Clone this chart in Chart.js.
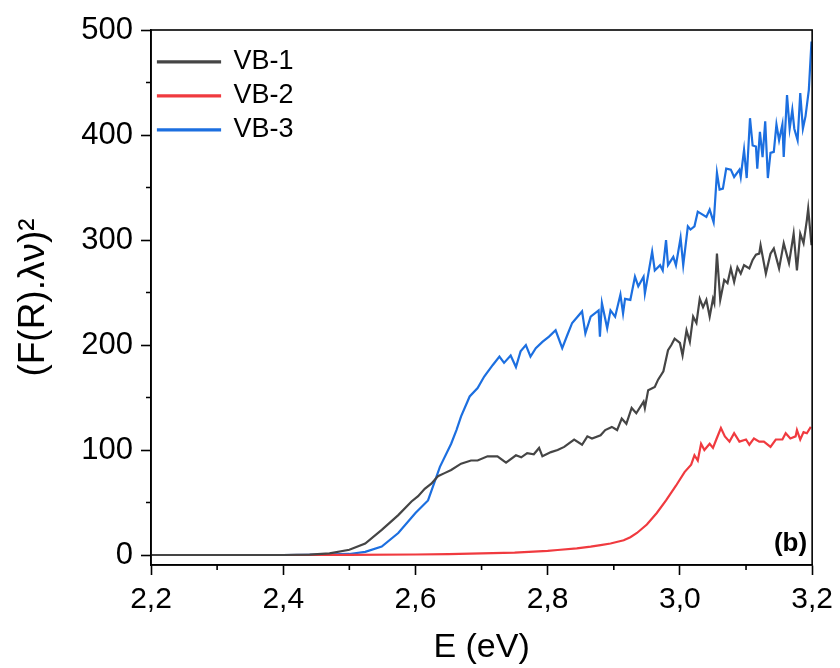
<!DOCTYPE html>
<html>
<head>
<meta charset="utf-8">
<script src="https://cdn.jsdelivr.net/npm/chart.js@4.4.1/dist/chart.umd.min.js"></script>
<style>
  html, body { margin: 0; padding: 0; background: #fff; }
  #chart { display: block; }
</style>
</head>
<body>
<canvas id="chart" width="840" height="668"></canvas>
<script>
const xTicks = [2.2, 2.4, 2.6, 2.8, 3.0, 3.2];
const xMinor = [2.3, 2.5, 2.7, 2.9, 3.1];
const yTicks = [0, 100, 200, 300, 400, 500];
const yMinor = [50, 150, 250, 350, 450];
const seriesNames = ["VB-1", "VB-2", "VB-3"];
const seriesColors = ["#454545", "#f03a3f", "#1c6fe0"];

// VB-1 (black)
const vb1E = [2.20, 2.30, 2.40, 2.44, 2.47, 2.50, 2.524, 2.549, 2.574, 2.594, 2.604, 2.614, 2.624, 2.634, 2.644, 2.654, 2.669, 2.684, 2.694,
  2.709, 2.724, 2.737, 2.752, 2.760, 2.769, 2.779, 2.787, 2.792, 2.805, 2.815, 2.825, 2.840, 2.852, 2.860, 2.867, 2.880, 2.887, 2.897, 2.905,
  2.912, 2.919, 2.927, 2.934, 2.945, 2.947, 2.952, 2.962, 2.967, 2.975, 2.982, 2.987, 2.992, 3.000, 3.004, 3.010, 3.015, 3.020, 3.025, 3.030,
  3.035, 3.040, 3.045, 3.050, 3.052, 3.056, 3.061, 3.067, 3.072, 3.077, 3.082, 3.087, 3.092, 3.097, 3.105, 3.110, 3.115, 3.120, 3.122, 3.130,
  3.137, 3.142, 3.150, 3.157, 3.165, 3.172, 3.177, 3.182, 3.187, 3.192, 3.194, 3.199];
const vb1Y = [0, 0, 0, 0.3, 1.5, 5, 11, 24, 38, 51, 56, 63, 68, 75, 78, 81, 87, 90, 90,
  94, 94, 88, 95, 93, 97, 96, 102, 94, 98, 100, 103, 110, 105, 113, 111, 114, 119, 122, 119,
  130, 125, 140, 135, 146, 140, 157, 160, 167, 175, 195, 200, 206, 202, 190, 214, 203, 227, 221, 244,
  236, 243, 227, 244, 240, 287, 243, 262, 259, 273, 260, 274, 268, 276, 273, 281, 286, 287, 295, 268,
  287, 292, 273, 297, 278, 306, 271, 306, 297, 319, 330, 295];

// VB-2 (red)
const vb2E = [2.20, 2.40, 2.50, 2.60, 2.65, 2.70, 2.75, 2.80, 2.815, 2.844, 2.865, 2.88, 2.895, 2.915, 2.925, 2.935, 2.95, 2.965, 2.979,
  2.994, 3.007, 3.017, 3.022, 3.027, 3.032, 3.037, 3.045, 3.050, 3.055, 3.062, 3.068, 3.075, 3.082, 3.090, 3.100, 3.105, 3.112, 3.120,
  3.127, 3.137, 3.145, 3.155, 3.160, 3.167, 3.175, 3.177, 3.182, 3.187, 3.192, 3.198];
const vb2Y = [0, 0, 0.1, 0.5, 0.8, 1.5, 2.3, 4, 4.8, 6.4, 8, 9.5, 11, 14, 17, 21, 29, 40, 52,
  66, 79, 86, 95, 90, 106, 100, 106, 102, 110, 121, 113, 108, 116, 108, 110, 105, 111, 108,
  108, 103, 110, 110, 116, 111, 113, 119, 110, 117, 116, 122];

// VB-3 (blue)
const vb3E = [2.20, 2.40, 2.46, 2.50, 2.524, 2.549, 2.574, 2.600, 2.619, 2.637, 2.654, 2.662, 2.669, 2.682, 2.694, 2.704, 2.717, 2.727,
  2.734, 2.744, 2.752, 2.759, 2.767, 2.774, 2.782, 2.792, 2.802, 2.812, 2.822, 2.830, 2.837, 2.852, 2.857, 2.865, 2.877, 2.879, 2.882,
  2.890, 2.895, 2.902, 2.910, 2.914, 2.917, 2.925, 2.932, 2.937, 2.945, 2.947, 2.952, 2.958, 2.962, 2.970, 2.974, 2.979, 2.982, 2.990,
  2.994, 3.001, 3.005, 3.012, 3.016, 3.022, 3.027, 3.040, 3.045, 3.051, 3.052, 3.056, 3.060, 3.065, 3.070, 3.077, 3.082, 3.090, 3.092,
  3.097, 3.101, 3.106, 3.110, 3.115, 3.117, 3.121, 3.125, 3.129, 3.133, 3.137, 3.142, 3.146, 3.150, 3.155, 3.157, 3.162, 3.166, 3.170,
  3.173, 3.178, 3.182, 3.186, 3.190, 3.195, 3.199];
const vb3Y = [0, 0, 0.3, 1, 3, 8, 21, 40, 52, 84, 106, 119, 132, 151, 159, 170, 181, 189,
  183, 190, 179, 194, 200, 189, 197, 203, 208, 214, 197, 210, 221, 232, 211, 227, 233, 208, 240,
  216, 233, 227, 248, 230, 244, 243, 265, 256, 265, 249, 267, 289, 271, 276, 271, 300, 276, 284,
  276, 302, 276, 313, 310, 313, 327, 322, 329, 317, 325, 364, 348, 349, 368, 367, 360, 367, 360,
  386, 359, 416, 390, 389, 368, 403, 379, 413, 359, 383, 384, 410, 395, 410, 379, 438, 406, 424,
  406, 395, 440, 406, 418, 443, 489];

const FONT = "Arial, 'Liberation Sans', sans-serif";
const comma = (v) => v.toFixed(1).replace(".", ",");
const toPoints = (xs, ys) => xs.map((x, i) => ({ x: x, y: ys[i] }));

const frameAndMinor = {
  id: "frameAndMinor",
  afterDatasetsDraw(chart) {
    const { ctx, chartArea: a, scales: { x, y } } = chart;
    ctx.save();
    ctx.strokeStyle = "#000";
    ctx.lineWidth = 1.6;
    ctx.strokeRect(a.left, a.top, a.right - a.left, a.bottom - a.top);
    ctx.beginPath();
    xMinor.forEach(v => {
      const px = x.getPixelForValue(v);
      ctx.moveTo(px, a.bottom);
      ctx.lineTo(px, a.bottom + 5);
    });
    yMinor.forEach(v => {
      const py = y.getPixelForValue(v);
      ctx.moveTo(a.left, py);
      ctx.lineTo(a.left - 5, py);
    });
    ctx.stroke();
    ctx.fillStyle = "#000";
    ctx.font = "bold 26px " + FONT;
    ctx.textAlign = "right";
    ctx.textBaseline = "alphabetic";
    ctx.fillText("(b)", a.right - 5, a.bottom - 14);
    ctx.restore();
  }
};

const ctx = document.getElementById("chart").getContext("2d");
new Chart(ctx, {
  type: "line",
  data: {
    datasets: [
      { label: seriesNames[0], data: toPoints(vb1E, vb1Y) },
      { label: seriesNames[1], data: toPoints(vb2E, vb2Y) },
      { label: seriesNames[2], data: toPoints(vb3E, vb3Y) },
    ].map((d, i) => Object.assign(d, {
      borderColor: seriesColors[i],
      backgroundColor: seriesColors[i],
      borderWidth: 2.2,
      pointRadius: 0,
      tension: 0,
      fill: false,
    })),
  },
  options: {
    responsive: false,
    animation: false,
    layout: { padding: { left: 0, top: 30, right: 23, bottom: 0 } },
    scales: {
      x: {
        type: "linear",
        min: 2.2,
        max: 3.2,
        afterBuildTicks: (s) => { s.ticks = xTicks.map(v => ({ value: v })); },
        afterFit: (s) => { s.height = 103; },
        ticks: { color: "#000", padding: 7, maxRotation: 0, font: { family: FONT, size: 30 }, callback: (v) => comma(v) },
        grid: { drawOnChartArea: false, tickLength: 10, tickColor: "#000", tickWidth: 1.6 },
        border: { color: "#000", width: 1.6 },
        title: { display: true, text: "E (eV)", color: "#000", font: { family: FONT, size: 34 }, padding: { top: 0, bottom: 0 } },
      },
      y: {
        min: -9.5,
        max: 500,
        afterBuildTicks: (s) => { s.ticks = yTicks.map(v => ({ value: v })); },
        afterFit: (s) => { s.width = 151; },
        ticks: { color: "#000", padding: 8, font: { family: FONT, size: 31 } },
        grid: { drawOnChartArea: false, tickLength: 10, tickColor: "#000", tickWidth: 1.6 },
        border: { color: "#000", width: 1.6 },
        title: { display: true, text: "(F(R).λν)²", color: "#000", font: { family: FONT, size: 37 }, padding: { top: 12, bottom: 0 } },
      },
    },
    plugins: {
      legend: {
        position: "chartArea",
        align: "start",
        title: { display: true, text: "", font: { size: 2 }, padding: { top: 39, bottom: 0 } },
        labels: { color: "#000", boxWidth: 62, boxHeight: 1, padding: 7, font: { family: FONT, size: 27 } },
      },
      tooltip: { enabled: false },
    },
  },
  plugins: [frameAndMinor],
});
</script>
</body>
</html>
